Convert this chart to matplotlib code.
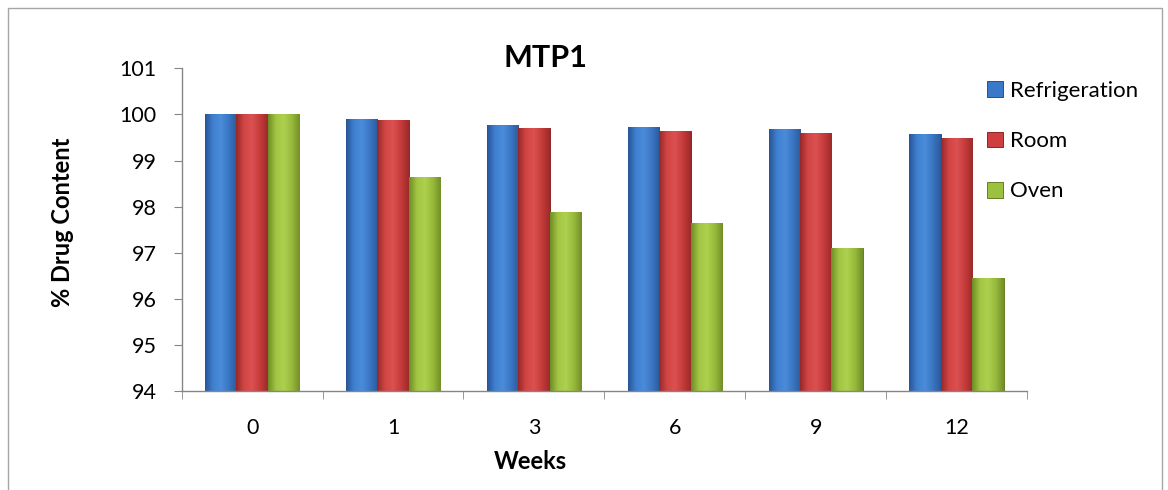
import matplotlib
matplotlib.use("Agg")
import matplotlib.pyplot as plt
import numpy as np
from matplotlib.patches import Rectangle
from matplotlib.colors import LinearSegmentedColormap

weeks = ["0", "1", "3", "6", "9", "12"]
refrigeration = [100.0, 99.91, 99.78, 99.73, 99.69, 99.58]
room = [100.0, 99.88, 99.71, 99.65, 99.59, 99.48]
oven = [100.0, 98.65, 97.89, 97.65, 97.10, 96.46]
series_names = ["Refrigeration", "Room", "Oven"]
base_colors = ["#3B78C8", "#CF3F3F", "#9DC03E"]
grad_colors = [
    ["#285496", "#3F80D0", "#4A8CDA", "#3B76C2", "#2A5A9C"],
    ["#962828", "#D24545", "#DB5050", "#C63B3B", "#9C2A2A"],
    ["#6E8C24", "#A2C644", "#ADD04E", "#98BA3C", "#728E28"],
]
edge_colors = ["#24508E", "#8E2424", "#667F22"]

W, H = 1168, 490
plt.rcParams['font.family'] = ['Lato', 'DejaVu Sans']

fig = plt.figure(figsize=(W / 100, H / 100), dpi=100)
fig.patches.append(Rectangle((8 / W, -0.02), 1154 / W, 1 - 8 / H + 0.02, transform=fig.transFigure,
                             fill=False, edgecolor="#A6A6A6", linewidth=1.0))
ax = fig.add_axes([181.7 / W, 1 - 391.3 / H, (1027 - 181.7) / W, (391.3 - 68.3) / H])

x = np.arange(len(weeks))
w = 0.223
grad = np.linspace(0, 1, 128).reshape(1, -1)
for i, vals in enumerate([refrigeration, room, oven]):
    cmap = LinearSegmentedColormap.from_list(f"g{i}", grad_colors[i])
    bars = ax.bar(x + (i - 1) * w, np.array(vals) - 94, bottom=94, width=w,
                  color=base_colors[i], edgecolor=edge_colors[i], linewidth=0.7, zorder=2)
    for p in bars:
        x0, y0 = p.get_x(), p.get_y()
        im = ax.imshow(grad, extent=[x0, x0 + p.get_width(), y0, y0 + p.get_height()],
                       aspect='auto', cmap=cmap, origin='lower', zorder=2.5,
                       interpolation='bilinear')
        im.set_clip_path(p)

ax.set_xlim(-0.5, len(weeks) - 0.5)
ax.set_ylim(94, 101)
ax.set_aspect('auto')
ax.set_yticks(range(94, 102))
ax.set_xticks(x)
ax.set_xticklabels(weeks)
ax.set_xticks(np.arange(-0.5, len(weeks), 1.0), minor=True)
ax.tick_params(axis='x', which='major', length=0, pad=19, labelsize=15.5)
ax.tick_params(axis='x', which='minor', length=6, color="#868686", direction='out')
ax.tick_params(axis='y', length=6, color="#868686", direction='out', labelsize=15.5, pad=12)
for s in ['top', 'right']:
    ax.spines[s].set_visible(False)
for s in ['left', 'bottom']:
    ax.spines[s].set_color("#868686")
    ax.spines[s].set_linewidth(1.0)

fig.text(545 / W, 1 - 58 / H, "MTP1", fontsize=22, fontweight='bold', ha='center', va='center')
fig.text(530 / W, 1 - 461 / H, "Weeks", fontsize=17, fontweight='bold', ha='center', va='center')
fig.text(63 / W, 1 - 222 / H, "% Drug Content", fontsize=17, fontweight='bold',
         ha='center', va='center', rotation=90)

handles = [Rectangle((0, 0), 1, 1, facecolor=base_colors[i], edgecolor=edge_colors[i], linewidth=0.7)
           for i in range(3)]
fig.legend(handles, series_names, loc='upper left', bbox_to_anchor=(987 / W, 1 - 81 / H),
           frameon=False, fontsize=16, handlelength=0.72, handleheight=0.72,
           handletextpad=0.32, labelspacing=1.36, borderpad=0, borderaxespad=0)

fig.savefig("out.png", dpi=100)
